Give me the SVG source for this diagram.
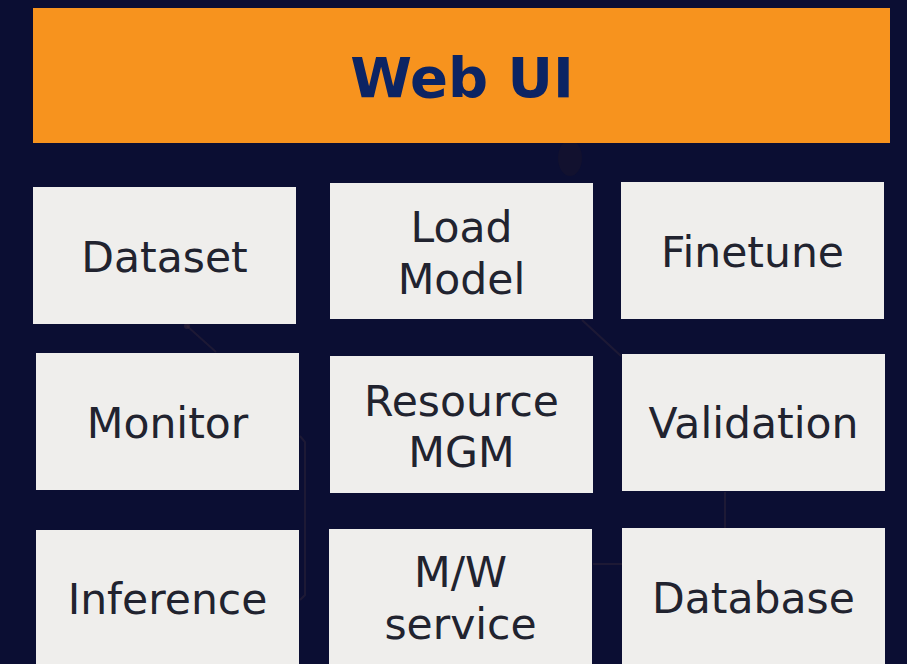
<svg xmlns="http://www.w3.org/2000/svg" width="907" height="664" viewBox="0 0 907 664">
<style>
.box{fill:#efeeec}
.lbl{font-family:"DejaVu Sans",sans-serif;font-size:42.5px;fill:#21232f;text-anchor:middle}
.title{font-family:"DejaVu Sans",sans-serif;font-size:56px;font-weight:bold;fill:#0c2463;text-anchor:middle}
.deco{fill:none;stroke:#3a2a3a;stroke-width:2;opacity:0.4}
</style>
<rect width="907" height="664" fill="#0b0e33"/>
<g id="background-decoration">
<ellipse cx="570" cy="158" rx="12" ry="18" fill="#12112f"/>
<path class="deco" d="M187 326 L216 352"/>
<circle cx="187" cy="326" r="3" fill="#3a2a3a" opacity="0.5"/>
<path class="deco" d="M300 436 L305 442 L305 595 L300 600"/>
<path class="deco" d="M593 564 L622 564"/>
<path class="deco" d="M582 320 L621 356"/>
<path class="deco" d="M725 492 L725 528"/>
</g>
<g id="web-ui">
<rect x="33" y="8" width="857" height="135" fill="#f7931e"/>
<text class="title" x="462" y="97">Web UI</text>
</g>
<g id="dataset">
<rect class="box" x="33" y="187" width="263" height="137"/>
<text class="lbl" x="164.5" y="272">Dataset</text>
</g>
<g id="load-model">
<rect class="box" x="330" y="183" width="263" height="136"/>
<text class="lbl" x="461.5" y="242">Load</text>
<text class="lbl" x="461.5" y="294">Model</text>
</g>
<g id="finetune">
<rect class="box" x="621" y="182" width="263" height="137"/>
<text class="lbl" x="752.5" y="267">Finetune</text>
</g>
<g id="monitor">
<rect class="box" x="36" y="353" width="263" height="137"/>
<text class="lbl" x="167.5" y="438">Monitor</text>
</g>
<g id="resource-mgm">
<rect class="box" x="330" y="356" width="263" height="137"/>
<text class="lbl" x="461.5" y="416">Resource</text>
<text class="lbl" x="461.5" y="467">MGM</text>
</g>
<g id="validation">
<rect class="box" x="622" y="354" width="263" height="137"/>
<text class="lbl" x="753.5" y="438">Validation</text>
</g>
<g id="inference">
<rect class="box" x="36" y="530" width="263" height="140"/>
<text class="lbl" x="167.5" y="614">Inference</text>
</g>
<g id="mw-service">
<rect class="box" x="329" y="529" width="263" height="140"/>
<text class="lbl" x="460.5" y="587">M/W</text>
<text class="lbl" x="460.5" y="639">service</text>
</g>
<g id="database">
<rect class="box" x="622" y="528" width="263" height="140"/>
<text class="lbl" x="753.5" y="613">Database</text>
</g>
<g id="connectors"></g>
</svg>
